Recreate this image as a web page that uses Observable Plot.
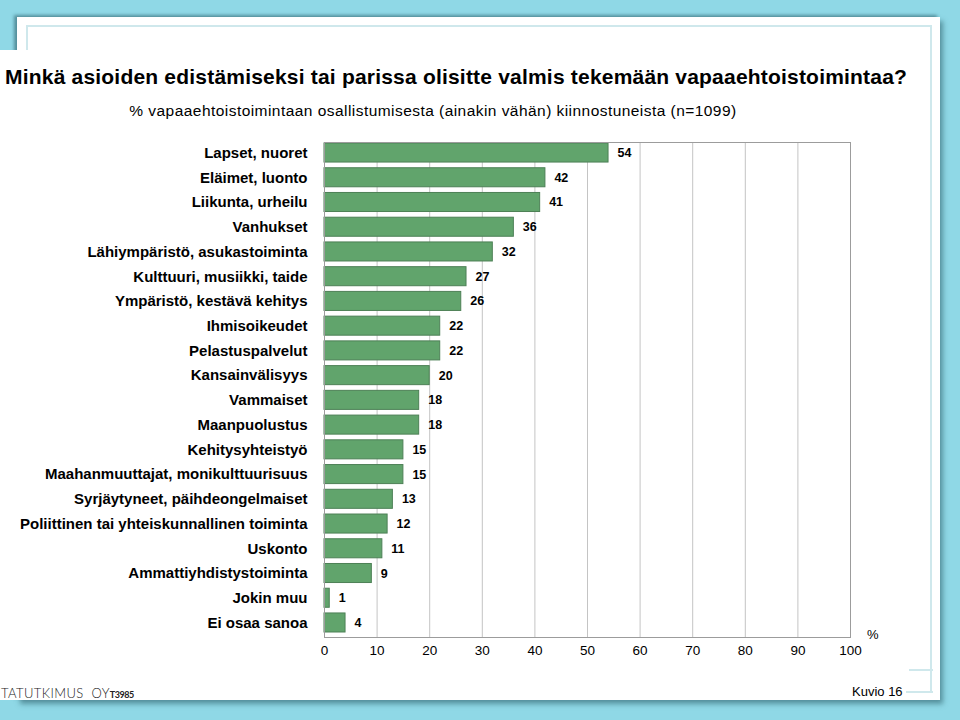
<!DOCTYPE html>
<html>
<head>
<meta charset="utf-8">
<script src="https://cdn.jsdelivr.net/npm/d3@7"></script>
<script src="https://cdn.jsdelivr.net/npm/@observablehq/plot@0.6"></script>
<style>
  html, body { margin: 0; padding: 0; }
  body { width: 960px; height: 720px; position: relative; overflow: hidden;
         background: #8fd8e6; font-family: "Liberation Sans", Arial, sans-serif; }
  .panel { position: absolute; left: 17px; top: 17px; width: 923px; height: 683px; background: #fff;
           box-shadow: -3px -2px 3px rgba(40,90,100,0.55), 3px 4px 5px rgba(40,90,100,0.55); }
  .inner { position: absolute; left: 26px; top: 25px; width: 906px; height: 667px;
           border-left: 2px solid #cfe8ec; border-top: 2px solid #cfe8ec; border-right: 2px solid #cfe8ec; box-sizing: border-box; }
  .whiteband { position: absolute; left: 0; top: 50px; width: 920px; height: 650px; background: #fff; }
  .title { position: absolute; left: 5px; top: 65px; font-size: 21px; font-weight: bold; color: #000; white-space: nowrap; letter-spacing: 0.2px; }
  .subtitle { position: absolute; left: 0; width: 866px; text-align: center; top: 102px; font-size: 15.5px; letter-spacing: 0.45px; color: #000; white-space: nowrap; }
  .chartwrap { position: absolute; left: 0; top: 130px; line-height: 0; }
  .pct { position: absolute; left: 867px; top: 627px; font-size: 13px; color: #000; }
  .kuvio { position: absolute; left: 852px; top: 684px; font-size: 13px; color: #000; }
  .hl1 { position: absolute; left: 909px; top: 669px; width: 24px; border-top: 2px solid #cfe8ec; }
  .hl2 { position: absolute; left: 906px; top: 691px; width: 27px; border-top: 2px solid #cfe8ec; }
  .logo { position: absolute; left: 1px; top: 685px; font-family: Lato, "DejaVu Sans", sans-serif; font-weight: 300; font-size: 13px; letter-spacing: 0.4px; color: #222; white-space: nowrap; }
  .logo small { font-size: 9px; font-weight: 700; letter-spacing: -0.5px; }
  .chart [aria-label="y-axis tick label"] text { font-weight: bold; font-size: 15px; }
</style>
</head>
<body>
<div class="panel"></div>
<div class="inner"></div>
<div class="whiteband"></div>
<div class="title">Minkä asioiden edistämiseksi tai parissa olisitte valmis tekemään vapaaehtoistoimintaa?</div>
<div class="subtitle">% vapaaehtoistoimintaan osallistumisesta (ainakin vähän) kiinnostuneista (n=1099)</div>
<div class="chartwrap" id="chart"></div>
<div class="pct">%</div>
<div class="hl1"></div>
<div class="hl2"></div>
<div class="kuvio">Kuvio 16</div>
<div class="logo">TATUTKIMUS&nbsp;&nbsp;OY<small>T3985</small></div>
<script>
const categories = [
  "Lapset, nuoret",
  "Eläimet, luonto",
  "Liikunta, urheilu",
  "Vanhukset",
  "Lähiympäristö, asukastoiminta",
  "Kulttuuri, musiikki, taide",
  "Ympäristö, kestävä kehitys",
  "Ihmisoikeudet",
  "Pelastuspalvelut",
  "Kansainvälisyys",
  "Vammaiset",
  "Maanpuolustus",
  "Kehitysyhteistyö",
  "Maahanmuuttajat, monikulttuurisuus",
  "Syrjäytyneet, päihdeongelmaiset",
  "Poliittinen tai yhteiskunnallinen toiminta",
  "Uskonto",
  "Ammattiyhdistystoiminta",
  "Jokin muu",
  "Ei osaa sanoa"
];
const values = [54, 42, 41, 36, 32, 27, 26, 22, 22, 20, 18, 18, 15, 15, 13, 12, 11, 9, 1, 4];
const xTicks = [0, 10, 20, 30, 40, 50, 60, 70, 80, 90, 100];

const data = categories.map((c, i) => ({category: c, value: values[i]}));

const chart = Plot.plot({
  className: "chart",
  width: 960,
  height: 540,
  marginLeft: 324,
  marginRight: 110,
  marginTop: 12,
  marginBottom: 33,
  style: {fontFamily: "'Liberation Sans', Arial, sans-serif", background: "transparent", color: "#000", overflow: "visible"},
  x: {domain: [0, 100], ticks: xTicks, label: null},
  y: {domain: categories, range: [13, 502], round: false, paddingInner: 0.23, paddingOuter: 0, label: null},
  marks: [
    Plot.gridX(xTicks, {stroke: "#c4c4c4", strokeOpacity: 1}),
    Plot.barX(data, {x: "value", y: "category", fill: "#61a46c", stroke: "#4d8056", strokeWidth: 1}),
    Plot.text(data, {x: "value", y: "category", text: d => String(d.value), dx: 9, textAnchor: "start", fontWeight: "bold", fontSize: 12.5, fill: "#000"}),
    Plot.frame({stroke: "#9c9c9c"}),
    Plot.axisX(xTicks, {tickSize: 0, tickPadding: 8, fontSize: 13.5, label: null}),
    Plot.axisY({tickSize: 0, tickPadding: 17, fontSize: 15, fontWeight: "bold", label: null})
  ]
});
document.getElementById("chart").appendChild(chart);
</script>
</body>
</html>
